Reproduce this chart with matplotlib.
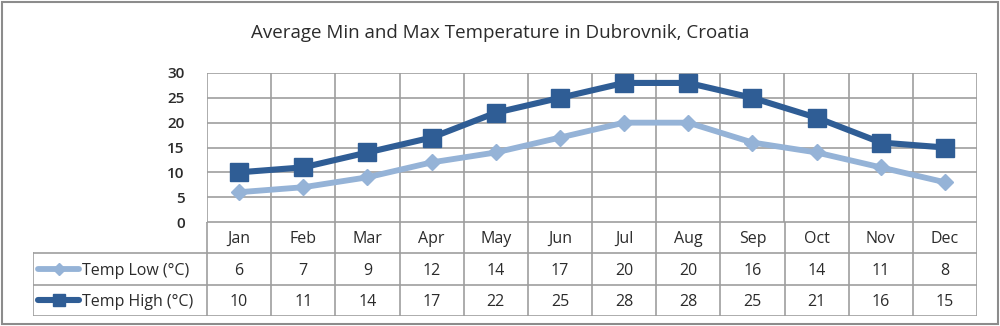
import matplotlib
matplotlib.use('Agg')
import matplotlib.pyplot as plt
from matplotlib.lines import Line2D

# Datos mensuales
meses = ['Jan', 'Feb', 'Mar', 'Apr', 'May', 'Jun', 'Jul', 'Aug', 'Sep', 'Oct', 'Nov', 'Dec']
temp_low = [6, 7, 9, 12, 14, 17, 20, 20, 16, 14, 11, 8]
temp_high = [10, 11, 14, 17, 22, 25, 28, 28, 25, 21, 16, 15]
series = ['Temp Low (°C)', 'Temp High (°C)']
titulo = 'Average Min and Max Temperature in Dubrovnik, Croatia'

c_low = '#95B3D7'
c_high = '#2F5D95'
c_grid = '#9E9E9E'
c_txt = '#2B2B2B'
plt.rcParams['font.family'] = ['Open Sans', 'DejaVu Sans']

W, H = 1000, 326
fig = plt.figure(figsize=(W/100, H/100), dpi=100)

def caja(x0, y0, x1, y1):
    # caja en pixeles (origen arriba a la izquierda)
    return [x0/W, 1 - y1/H, (x1 - x0)/W, (y1 - y0)/H]

# borde exterior
borde = plt.Rectangle((2/W, 2/H), 996/W, 322/H, transform=fig.transFigure,
                      fill=False, ec='#8C8C8C', lw=1.5)
fig.patches.append(borde)

fig.text(0.5, 1 - 33/H, titulo, ha='center', va='center', fontsize=13.5, color=c_txt)

# grafico de lineas
x0, x1 = 207, 977
ax = fig.add_axes(caja(x0, 73, x1, 222))
xs = [i + 0.5 for i in range(len(meses))]
ax.plot(xs, temp_low, color=c_low, lw=4.2, marker='D', ms=8.5, zorder=3)
ax.plot(xs, temp_high, color=c_high, lw=4.4, marker='s', ms=13, zorder=4)
ax.set_xlim(0, 12)
ax.set_ylim(0, 30)
ax.set_yticks(range(0, 31, 5))
ax.set_xticks(range(13))
ax.set_xticklabels([])
ax.grid(True, color=c_grid, lw=1.2)
ax.tick_params(length=0, labelsize=11, labelcolor=c_txt, pad=16)
for s in ax.spines.values():
    s.set_visible(False)
for lab in ax.get_yticklabels():
    lab.set_fontweight('semibold')

# tabla de datos
unidad = (x1 - x0) / 12
izq = (x0 - 33) / unidad
tb = fig.add_axes(caja(33, 222, x1, 316))
tb.set_xlim(-izq, 12)
tb.set_ylim(3, 0)
tb.axis('off')
kw = dict(color=c_grid, lw=1.2)
for i in range(13):
    tb.plot([i, i], [0, 3], **kw)
tb.plot([-izq, -izq], [1, 3], **kw)
tb.plot([0, 12], [0, 0], **kw)
for r in (1, 2, 3):
    tb.plot([-izq, 12], [r, r], **kw)

fs = 11.5
for i, m in enumerate(meses):
    tb.text(i + 0.5, 0.55, m, ha='center', va='center', fontsize=fs, color=c_txt)
    tb.text(i + 0.5, 1.55, str(temp_low[i]), ha='center', va='center', fontsize=fs, color=c_txt)
    tb.text(i + 0.5, 2.55, str(temp_high[i]), ha='center', va='center', fontsize=fs, color=c_txt)

# leyenda dentro de la tabla
ini = -izq + 5 / unidad
fin = -izq + 46 / unidad
estilos = [(c_low, 4.2, 'D', 6), (c_high, 4.4, 's', 8)]
for r, (nombre, (c, lw, mk, ms)) in enumerate(zip(series, estilos)):
    yy = 1.5 + r
    tb.add_line(Line2D([ini, fin], [yy, yy], color=c, lw=lw, solid_capstyle='round'))
    tb.plot([(ini + fin) / 2], [yy], marker=mk, ms=ms, color=c)
    tb.text(fin + 3 / unidad, yy + 0.05, nombre, ha='left', va='center', fontsize=fs, color=c_txt)

plt.savefig('out.png', dpi=100)
